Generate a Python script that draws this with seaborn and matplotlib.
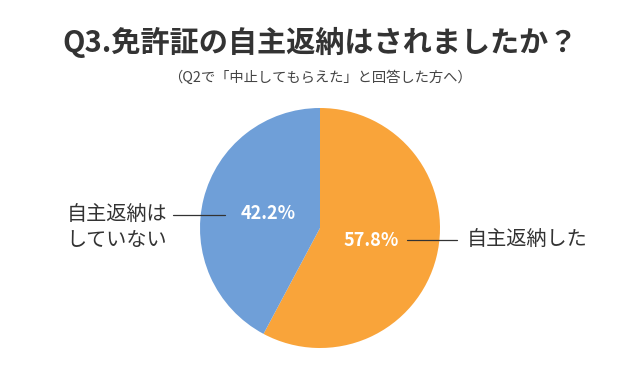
import matplotlib
matplotlib.use("Agg")
import matplotlib.pyplot as plt
import seaborn as sns

# データ
labels = ["自主返納した", "自主返納は\nしていない"]
values = [57.8, 42.2]
colors = ["#F9A43A", "#6F9FD8"]

title = "Q3.免許証の自主返納はされましたか？"
subtitle = "（Q2で「中止してもらえた」と回答した方へ）"

sns.set_theme(style="white")
plt.rcParams['font.family'] = ['Noto Sans CJK JP', 'DejaVu Sans']

fig = plt.figure(figsize=(6.4, 3.75), dpi=100)
fig.patch.set_facecolor("white")

fig.text(0.5, 0.888, title, ha="center", va="center", fontsize=21,
         fontweight="bold", color="#333333")
fig.text(0.5, 0.793, subtitle, ha="center", va="center", fontsize=10.3,
         color="#444444")

# 円グラフ
ax = fig.add_axes([200 / 640, 27 / 375, 240 / 640, 240 / 375])
wedges, _ = ax.pie(values, colors=colors, startangle=90, counterclock=False,
                   wedgeprops=dict(linewidth=0))
ax.set_xlim(-1, 1)
ax.set_ylim(-1, 1)
ax.set_aspect("equal")
ax.axis("off")

# パーセント表示と引き出し線
ax.text(0.425, -0.10, f"{values[0]}%", ha="center", va="center", color="white",
        fontsize=13, fontweight="bold")
ax.text(-0.433, 0.117, f"{values[1]}%", ha="center", va="center", color="white",
        fontsize=13, fontweight="bold")

ax.plot([0.725, 1.14], [-0.10, -0.10], color="#333333", lw=0.9, clip_on=False)
ax.plot([-0.79, -1.225], [0.108, 0.108], color="#333333", lw=0.9, clip_on=False)

ax.text(1.225, -0.10, labels[0], ha="left", va="center", fontsize=14.5,
        color="#333333")
ax.text(-1.275, 0.0, labels[1], ha="right", va="center", fontsize=14.5,
        color="#333333", linespacing=1.2, multialignment="left")

fig.savefig("out.png", dpi=100, facecolor="white")
